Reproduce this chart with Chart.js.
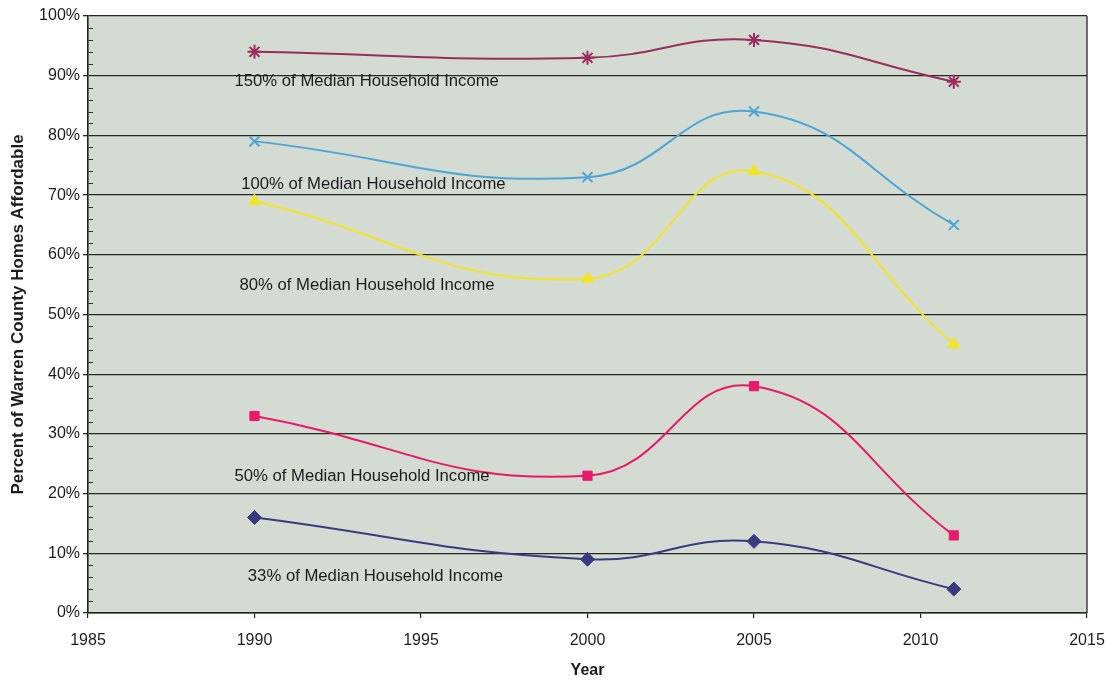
<!DOCTYPE html>
<html>
<head>
<meta charset="utf-8">
<script src="https://cdn.jsdelivr.net/npm/chart.js@4/dist/chart.umd.min.js"></script>
<style>
  html, body { margin: 0; padding: 0; background: #ffffff; }
  #wrap { width: 1107px; height: 680px; }
</style>
</head>
<body>
<div id="wrap"><canvas id="c" width="1107" height="680"></canvas></div>
<script>
// Survey years
const years = [1990, 2000, 2005, 2011];

// Share of homes affordable (%) at each income level
const income150 = [94, 93, 96, 89];
const income100 = [79, 73, 84, 65];
const income80  = [69, 56, 74, 45];
const income50  = [33, 23, 38, 13];
const income33  = [16, 9, 12, 4];

const seriesNames = [
  '150% of Median Household Income',
  '100% of Median Household Income',
  '80% of Median Household Income',
  '50% of Median Household Income',
  '33% of Median Household Income'
];

// Axis ranges and tick steps
const xMin = 1985, xMax = 2015, xStep = 5;
const yMin = 0, yMax = 100, yStep = 10, yMinorStep = 2;

// Where each series name is written, in data units (left edge, middle)
const labelAnchors = [
  { x: 1989.4, y: 89.0 },
  { x: 1989.6, y: 71.8 },
  { x: 1989.55, y: 54.9 },
  { x: 1989.4, y: 22.9 },
  { x: 1989.8, y: 6.1 }
];

const seriesValues = [income150, income100, income80, income50, income33];
const colors = ['#9a2d5e', '#4ea6d6', '#f2e528', '#e8196b', '#3b3a80'];
const markers = ['star', 'crossRot', 'triangle', 'rect', 'rectRot'];
const markerSizes = [7, 7, 7, 6.5, 7];

const FONT = "'Liberation Sans', Arial, sans-serif";
const INK = '#1c1c1c';

const datasets = seriesValues.map((vals, i) => ({
  label: seriesNames[i],
  data: years.map((yr, j) => ({ x: yr, y: vals[j] })),
  showLine: true,
  borderColor: colors[i],
  backgroundColor: colors[i],
  borderWidth: 2,
  tension: 0.45,
  pointStyle: markers[i],
  pointRadius: markerSizes[i],
  pointBorderWidth: markers[i] === 'star' || markers[i] === 'crossRot' ? 2 : 1,
  pointBorderColor: colors[i],
  pointBackgroundColor: colors[i]
}));

// Plot-area fill, border, minor y ticks and the in-plot series names
const plotDecor = {
  id: 'plotDecor',
  beforeDraw(chart) {
    const { ctx, chartArea: a } = chart;
    ctx.save();
    ctx.fillStyle = '#d3dbd3';
    ctx.fillRect(a.left, a.top, a.right - a.left, a.bottom - a.top);
    ctx.restore();
  },
  afterDatasetsDraw(chart) {
    const { ctx, chartArea: a, scales } = chart;
    const ys = scales.y, xs = scales.x;
    ctx.save();
    // right-hand border
    ctx.strokeStyle = '#333';
    ctx.lineWidth = 1.4;
    ctx.beginPath();
    ctx.moveTo(a.right, a.top);
    ctx.lineTo(a.right, a.bottom);
    ctx.stroke();
    // minor ticks inside the left axis
    ctx.strokeStyle = '#333';
    ctx.lineWidth = 1;
    for (let v = yMin; v <= yMax; v += yMinorStep) {
      if (v % yStep === 0) continue;
      const py = Math.round(ys.getPixelForValue(v)) + 0.5;
      ctx.beginPath();
      ctx.moveTo(a.left, py);
      ctx.lineTo(a.left + 5, py);
      ctx.stroke();
    }
    // series names
    ctx.fillStyle = INK;
    ctx.font = '16.7px ' + FONT;
    ctx.textAlign = 'left';
    ctx.textBaseline = 'middle';
    labelAnchors.forEach((p, i) => {
      ctx.fillText(seriesNames[i], xs.getPixelForValue(p.x), ys.getPixelForValue(p.y));
    });
    ctx.restore();
  }
};

new Chart(document.getElementById('c'), {
  type: 'scatter',
  data: { datasets },
  plugins: [plotDecor],
  options: {
    responsive: false,
    animation: false,
    devicePixelRatio: 1,
    layout: { padding: { left: 0, top: 16, right: 20, bottom: 0 } },
    plugins: {
      legend: { display: false },
      tooltip: { enabled: false }
    },
    scales: {
      x: {
        type: 'linear',
        min: xMin,
        max: xMax,
        afterFit(scale) {
          scale.height = 67;
          scale.paddingLeft = 0;
          scale.paddingRight = 0;
        },
        ticks: {
          stepSize: xStep,
          color: INK,
          font: { family: FONT, size: 16 },
          padding: 13,
          maxRotation: 0,
          callback: v => String(v)
        },
        grid: {
          drawOnChartArea: false,
          drawTicks: true,
          tickLength: 5,
          color: '#222',
          lineWidth: 1.2
        },
        border: { display: true, color: '#222', width: 1.6 },
        title: {
          display: true,
          text: 'Year',
          color: INK,
          font: { family: FONT, size: 16, weight: 'bold' },
          padding: { top: 4, bottom: 0 }
        }
      },
      y: {
        min: yMin,
        max: yMax,
        afterFit(scale) {
          scale.width = 88;
          scale.paddingTop = 0;
          scale.paddingBottom = 0;
        },
        ticks: {
          stepSize: yStep,
          color: INK,
          font: { family: FONT, size: 16 },
          padding: 3,
          callback: v => v + '%'
        },
        grid: {
          drawOnChartArea: true,
          drawTicks: true,
          tickLength: 5,
          color: '#262626',
          lineWidth: 1.3
        },
        border: { display: true, color: '#222', width: 1.6 },
        title: {
          display: true,
          text: 'Percent of Warren County Homes Affordable',
          color: INK,
          font: { family: FONT, size: 17, weight: 'bold' },
          padding: { top: 8, bottom: 0 }
        }
      }
    }
  }
});
</script>
</body>
</html>
